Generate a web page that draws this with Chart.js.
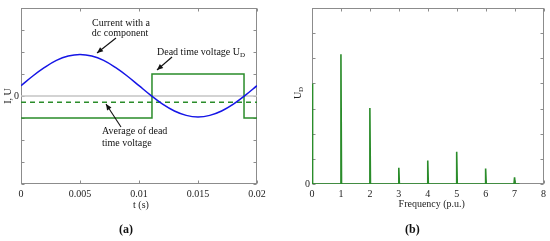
<!DOCTYPE html>
<html><head><meta charset="utf-8">
<script src="https://cdn.jsdelivr.net/npm/chart.js@4"></script>
<style>
body{margin:0;background:#fff;width:550px;height:241px;overflow:hidden;position:relative}
#ca{position:absolute;left:0;top:0}
#cb{position:absolute;left:275px;top:0}
.lab{position:absolute;font:bold 12px 'Liberation Serif',serif;top:222px;color:#111}
</style></head><body>
<canvas id="ca" width="275" height="241"></canvas>
<canvas id="cb" width="275" height="241"></canvas>
<div class="lab" style="left:119px">(a)</div>
<div class="lab" style="left:405px">(b)</div>
<script>
// ---- data, panel (a)
const timeA = [0,0.001,0.002,0.003,0.004,0.005,0.006,0.007,0.008,0.009,0.010,0.011,0.012,0.013,0.014,0.015,0.016,0.017,0.018,0.019,0.020];
const currentA = [0.47,0.91,1.30,1.62,1.82,1.89,1.82,1.62,1.30,0.91,0.47,0.03,-0.37,-0.68,-0.88,-0.95,-0.88,-0.68,-0.37,0.03,0.47];
const deadTimeT = [0,0.0111,0.0111,0.0189,0.0189,0.02];
const deadTimeU = [-1,-1,1,1,-1,-1];
const deadTimeAvg = -0.28;
const xTicksA = [0,0.005,0.01,0.015,0.02];
const xTickLabelsA = ['0','0.005','0.01','0.015','0.02'];
const yTicksA = [-4,-3,-2,-1,0,1,2,3,4];
// ---- data, panel (b)
const harmonicOrder = [0,1,2,3,4,5,6,7];
const harmonicAmp = [4.0,5.16,3.02,0.65,0.93,1.28,0.62,0.27];
const spectrumEnd = 7.17;
const xTicksB = [0,1,2,3,4,5,6,7,8];
const xTickLabelsB = ['0','1','2','3','4','5','6','7','8'];
const yTicksB = [0,1,2,3,4,5,6,7];

const FONT = "'Liberation Serif', serif";
const GREEN = '#2a8c2a';
const BLUE = '#1515e6';
const FRAME = '#8c8c8c';

function frame(chart, xt, yt){
  const {ctx, chartArea:a, scales:{x,y}} = chart;
  ctx.save();
  ctx.strokeStyle = FRAME; ctx.lineWidth = 1;
  const L=Math.round(a.left)+0.5, R=Math.round(a.right)-0.5, T=Math.round(a.top)+0.5, B=Math.round(a.bottom)-0.5;
  ctx.strokeRect(L,T,R-L,B-T);
  ctx.beginPath();
  xt.forEach(v=>{const p=Math.round(x.getPixelForValue(v))+0.5; ctx.moveTo(p,B); ctx.lineTo(p,B-3); ctx.moveTo(p,T); ctx.lineTo(p,T+3);});
  yt.forEach(v=>{const p=Math.round(y.getPixelForValue(v))+0.5; ctx.moveTo(L,p); ctx.lineTo(L+3,p); ctx.moveTo(R,p); ctx.lineTo(R-3,p);});
  ctx.stroke();
  ctx.restore();
}
function arrow(ctx,x1,y1,x2,y2){
  ctx.beginPath(); ctx.moveTo(x1,y1); ctx.lineTo(x2,y2); ctx.stroke();
  const ang=Math.atan2(y2-y1,x2-x1), l=6, w=2.6;
  ctx.beginPath();
  ctx.moveTo(x2,y2);
  ctx.lineTo(x2-l*Math.cos(ang)+w*Math.sin(ang), y2-l*Math.sin(ang)-w*Math.cos(ang));
  ctx.lineTo(x2-l*Math.cos(ang)-w*Math.sin(ang), y2-l*Math.sin(ang)+w*Math.cos(ang));
  ctx.closePath(); ctx.fill();
}

const plugA = {
  id:'plugA',
  beforeDatasetsDraw(chart){ frame(chart, xTicksA, yTicksA); },
  afterDraw(chart){
    const {ctx, chartArea:a, scales:{x,y}} = chart;
    const py=v=>y.getPixelForValue(v);
    ctx.save();
    ctx.fillStyle='#111'; ctx.strokeStyle='#111'; ctx.lineWidth=1.1;
    ctx.font = '10px '+FONT; ctx.textBaseline='middle';
    ctx.textAlign='center';
    ctx.fillText('Current with a', 121, 23);
    ctx.fillText('dc component', 120, 33);
    arrow(ctx, 116, 38, 97, 53);
    ctx.textAlign='left';
    ctx.fillText('Dead time voltage U', 157, 52);
    const w = ctx.measureText('Dead time voltage U').width;
    ctx.font = '7px '+FONT; ctx.fillText('D', 157+w, 55);
    ctx.font = '10px '+FONT;
    arrow(ctx, 172, 57, 157, 70);
    ctx.fillText('Average of dead', 102, 131);
    ctx.fillText('time voltage', 102, 143);
    arrow(ctx, 121, 127, 106, 104);
    // axis titles
    ctx.textAlign='center';
    ctx.fillStyle='#222';
    ctx.fillText('t (s)', (a.left+a.right)/2+2, 205);
    ctx.save(); ctx.translate(8, py(0)); ctx.rotate(-Math.PI/2); ctx.fillText('I, U', 0, 0); ctx.restore();
    ctx.restore();
  }
};

const plugB = {
  id:'plugB',
  beforeDatasetsDraw(chart){ frame(chart, xTicksB, yTicksB); },
  afterDraw(chart){
    const {ctx, chartArea:a} = chart;
    ctx.save();
    ctx.fillStyle='#222'; ctx.font='10px '+FONT; ctx.textBaseline='middle'; ctx.textAlign='center';
    ctx.fillText('Frequency (p.u.)', (a.left+a.right)/2+4, 204);
    ctx.save(); ctx.translate(23, 93); ctx.rotate(-Math.PI/2);
    ctx.textAlign='left'; ctx.fillText('U', -6, 0);
    ctx.font='7px '+FONT; ctx.fillText('D', 1, 3);
    ctx.restore();
    ctx.restore();
  }
};

function xyPts(xs, ys){ return xs.map((v,i)=>({x:v,y:ys[i]})); }

const tickFont = {family:FONT, size:10};
new Chart(document.getElementById('ca'), {
  type:'line',
  data:{datasets:[
    {data:xyPts(timeA,currentA), borderColor:BLUE, borderWidth:1.5, pointRadius:0, tension:0.4, order:1},
    {data:xyPts(deadTimeT,deadTimeU), borderColor:GREEN, borderWidth:1.5, pointRadius:0, tension:0, order:2},
    {data:[{x:0,y:deadTimeAvg},{x:0.02,y:deadTimeAvg}], borderColor:GREEN, borderWidth:1.5, borderDash:[5,4], pointRadius:0, order:3},
    {data:[{x:0,y:0},{x:0.02,y:0}], borderColor:'#c4c4c4', borderWidth:1.5, pointRadius:0, order:4}
  ]},
  options:{
    responsive:false, animation:false, devicePixelRatio:1,
    layout:{padding:{top:3,right:18,left:0,bottom:0}},
    plugins:{legend:{display:false}, tooltip:{enabled:false}},
    scales:{
      x:{type:'linear', min:0, max:0.02,
        afterBuildTicks:s=>{s.ticks=xTicksA.map(v=>({value:v}));},
        afterFit:s=>{s.height=57;},
        grid:{display:false, drawTicks:false}, border:{display:false},
        ticks:{autoSkip:false, maxRotation:0, padding:4, font:tickFont, color:'#222',
          callback:(v,i)=>xTickLabelsA[i]}},
      y:{type:'linear', min:-4, max:4,
        afterBuildTicks:s=>{s.ticks=yTicksA.map(v=>({value:v}));},
        afterFit:s=>{s.width=21;},
        grid:{display:false, drawTicks:false}, border:{display:false},
        ticks:{autoSkip:false, padding:2, font:tickFont, color:'#222',
          callback:v=>v===0?'0':''}}
    }
  },
  plugins:[plugA]
});

const w = 0.02;
const spectrum = [];
harmonicOrder.forEach((h,i)=>{
  if(h===0){ spectrum.push({x:0,y:harmonicAmp[i]}, {x:w,y:0}); }
  else { spectrum.push({x:h-w,y:0}, {x:h,y:harmonicAmp[i]}, {x:h+w,y:0}); }
});
spectrum.push({x:spectrumEnd,y:0});

new Chart(document.getElementById('cb'), {
  type:'line',
  data:{datasets:[
    {data:spectrum, borderColor:GREEN, borderWidth:1.6, pointRadius:0, tension:0}
  ]},
  options:{
    responsive:false, animation:false, devicePixelRatio:1,
    layout:{padding:{top:3,right:6,left:0,bottom:0}},
    plugins:{legend:{display:false}, tooltip:{enabled:false}},
    scales:{
      x:{type:'linear', min:0, max:8,
        afterBuildTicks:s=>{s.ticks=xTicksB.map(v=>({value:v}));},
        afterFit:s=>{s.height=57;},
        grid:{display:false, drawTicks:false}, border:{display:false},
        ticks:{autoSkip:false, maxRotation:0, padding:4, font:tickFont, color:'#222',
          callback:(v,i)=>xTickLabelsB[i]}},
      y:{type:'linear', min:0, max:7,
        afterBuildTicks:s=>{s.ticks=yTicksB.map(v=>({value:v}));},
        afterFit:s=>{s.width=37;},
        grid:{display:false, drawTicks:false}, border:{display:false},
        ticks:{autoSkip:false, padding:2, font:tickFont, color:'#222',
          callback:v=>v===0?'0':''}}
    }
  },
  plugins:[plugB]
});
</script>
</body></html>
